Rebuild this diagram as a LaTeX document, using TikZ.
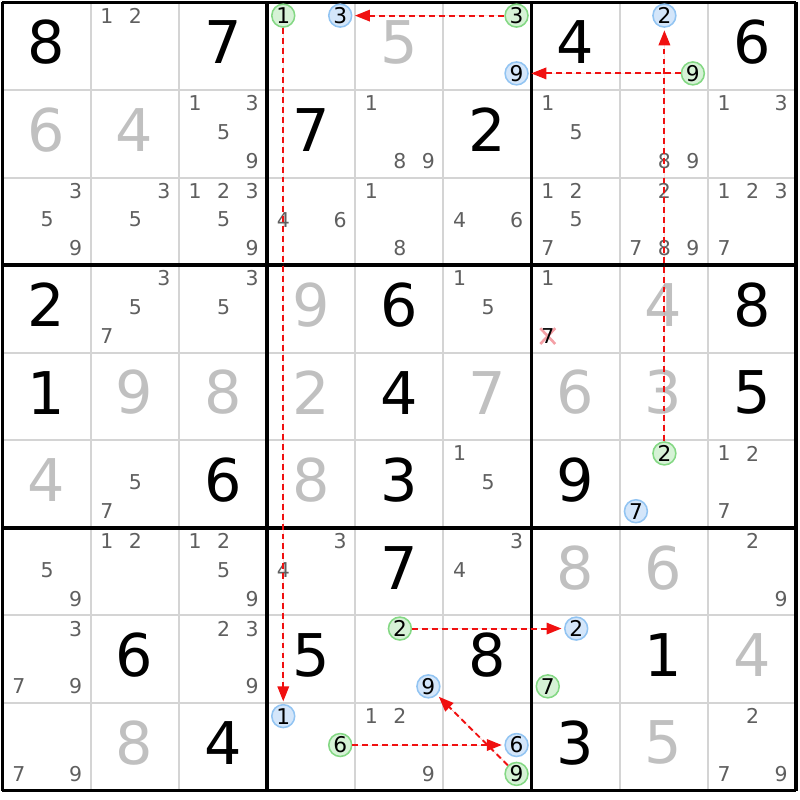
\documentclass[tikz,border=0pt]{standalone}
\usepackage{fontspec}
\setmainfont{DejaVu Sans}
\usetikzlibrary{arrows.meta}
\definecolor{candgray}{HTML}{5F5F5F}
\definecolor{solvedgray}{HTML}{C0C0C0}
\definecolor{gridgray}{HTML}{D4D4D4}
\definecolor{gfill}{HTML}{D6F2D6}
\definecolor{gline}{HTML}{84D884}
\definecolor{bfill}{HTML}{D4E6FA}
\definecolor{bline}{HTML}{92C4F2}
\definecolor{linkred}{HTML}{F01010}
\definecolor{crosspink}{HTML}{F4A0A6}
\begin{document}
\begin{tikzpicture}[x=1cm,y=-0.9932cm,>={Triangle[length=1.7mm,width=1.3mm]},
    given/.style={inner sep=0pt,yshift=0.045cm,font=\fontsize{19}{19}\selectfont},
    solved/.style={given,text=solvedgray},
    cand/.style={inner sep=0pt,text=candgray,font=\fontsize{6.6}{6.6}\selectfont},
    gcirc/.style={circle,draw=gline,fill=gfill,line width=0.5pt,minimum size=0.26cm,inner sep=0pt,font=\fontsize{7}{7}\selectfont},
    bcirc/.style={gcirc,draw=bline,fill=bfill},
    link/.style={->,draw=linkred,fill=linkred,line width=0.62pt,dash pattern=on 1.9pt off 1.3pt,shorten >=0.8pt}]
    \useasboundingbox (-0.028,-0.0285) rectangle (9.04,9.108);
\foreach \i in {1,2,4,5,7,8}
{
    \draw[gridgray,line width=0.65pt](\i,0)--(\i,9);
    \draw[gridgray,line width=0.65pt](0,\i)--(9,\i);
}
\foreach \i in {0,3,6,9}
{
    \draw[line width=1.15pt](\i,0)--(\i,9);
    \draw[line width=1.15pt](0,\i)--(9,\i);
}
\foreach \r/\c/\d in {1/1/8,1/3/7,1/7/4,1/9/6,2/4/7,2/6/2,4/1/2,4/5/6,4/9/8,5/1/1,5/5/4,5/9/5,
    6/3/6,6/5/3,6/7/9,7/5/7,8/2/6,8/4/5,8/6/8,8/8/1,9/3/4,9/7/3}
{
    \node[given] at (\c-0.5,\r-0.5){\d};
}
\foreach \r/\c/\d in {1/5/5,2/1/6,2/2/4,4/4/9,4/8/4,5/2/9,5/3/8,5/4/2,5/6/7,5/7/6,5/8/3,
    6/1/4,6/4/8,7/7/8,7/8/6,8/9/4,9/2/8,9/8/5}
{
    \node[solved] at (\c-0.5,\r-0.5){\d};
}
\foreach \r/\c/\l in {1/2/{1,2},2/3/{1,3,5,9},2/5/{1,8,9},2/7/{1,5},2/8/{8,9},2/9/{1,3},
    3/1/{3,5,9},3/2/{3,5},3/3/{1,2,3,5,9},3/4/{4,6},3/5/{1,8},3/6/{4,6},3/7/{1,2,5,7},
    3/8/{2,7,8,9},3/9/{1,2,3,7},4/2/{3,5,7},4/3/{3,5},4/6/{1,5},4/7/{1},6/2/{5,7},
    6/6/{1,5},6/9/{1,2,7},7/1/{5,9},7/2/{1,2},7/3/{1,2,5,9},7/4/{3,4},7/6/{3,4},
    7/9/{2,9},8/1/{3,7,9},8/3/{2,3,9},9/1/{7,9},9/5/{1,2,9},9/9/{2,7,9}}
{
    \foreach \k in \l
    {
        \pgfmathsetmacro\px{\c-0.815+0.323*mod(\k-1,3)}
        \pgfmathsetmacro\py{\r-0.85+0.33*int((\k-1)/3)}
        \node[cand] at (\px,\py){\k};
    }
}
\draw[crosspink,line width=0.85pt](6.1,3.72)--(6.27,3.9) (6.1,3.9)--(6.27,3.72);
\node[cand,text=black] at (6.185,3.81){7};
\foreach \r/\c/\k/\s in {1/4/1/gcirc,1/4/3/bcirc,1/6/3/gcirc,1/6/9/bcirc,1/8/9/gcirc,1/8/2/bcirc,
    6/8/2/gcirc,6/8/7/bcirc,8/5/2/gcirc,8/5/9/bcirc,8/7/7/gcirc,8/7/2/bcirc,
    9/4/6/gcirc,9/4/1/bcirc,9/6/9/gcirc,9/6/6/bcirc}
{
    \pgfmathsetmacro\px{\c-0.815+0.323*mod(\k-1,3)}
    \pgfmathsetmacro\py{\r-0.85+0.33*int((\k-1)/3)}
    \node[\s] (p\r\c\k) at (\px,\py){\k};
}
\begin{scope}[color=linkred]
\draw[link](p163)--(p143);
\draw[link](p189)--(p169);
\draw[link](p141)--(p941);
\draw[link](p682)--(p182);
\draw[link](p852)--(p872);
\draw[link](p946)--(p966);
\draw[link](p969)--(p859);
\end{scope}
\end{tikzpicture}
\end{document}
